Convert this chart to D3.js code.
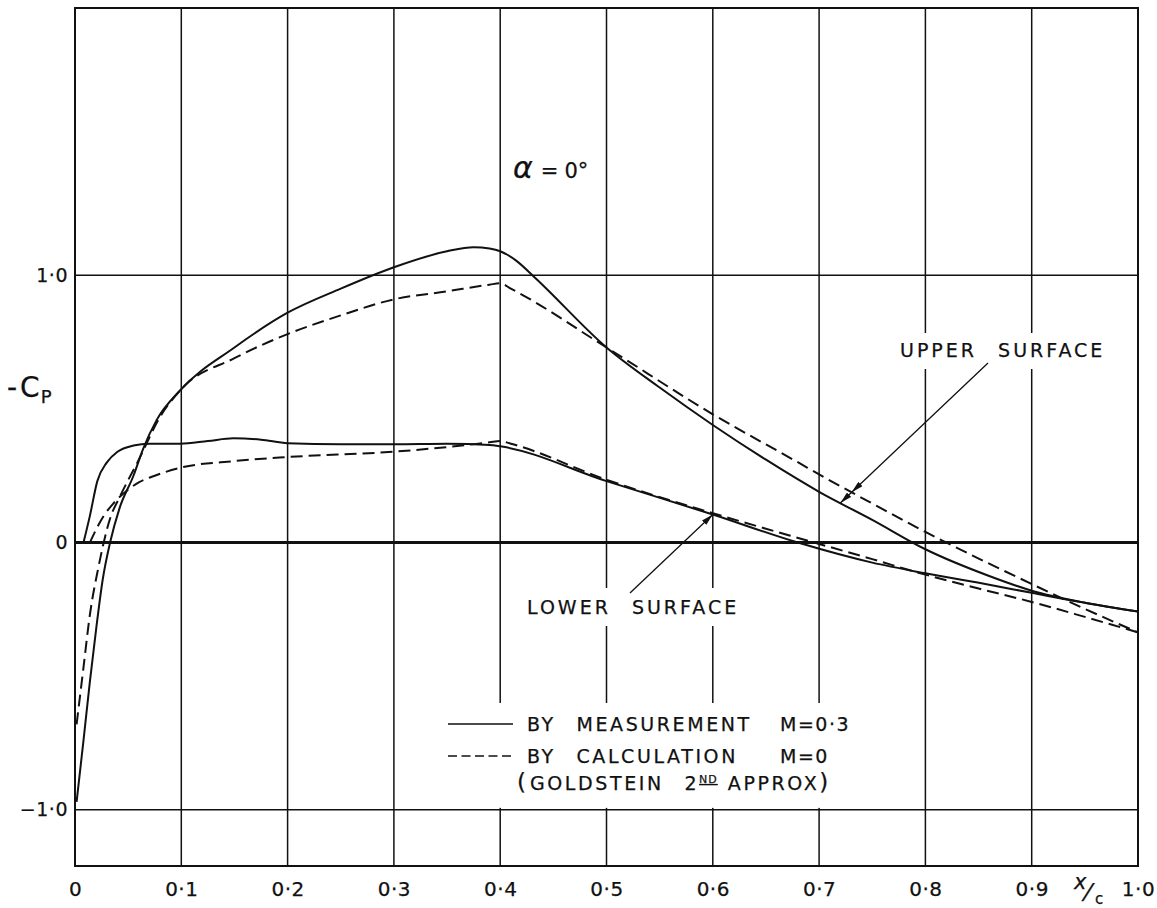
<!DOCTYPE html>
<html>
<head>
<meta charset="utf-8">
<script src="https://cdn.jsdelivr.net/npm/d3@7"></script>
<style>
  body { margin: 0; background: #fff; }
  text { font-family: "DejaVu Sans", sans-serif; fill: #111; stroke: #111; stroke-width: 0.25; }
</style>
</head>
<body>
<svg id="chart" width="1157" height="908"></svg>
<script>
// Pressure distribution, -Cp against x/c, alpha = 0 deg.
// Each series is a list of [x/c, -Cp] pairs.
const upperMeasured = [
  [0.0015, -0.97], [0.008, -0.74], [0.014, -0.52], [0.020, -0.32], [0.026, -0.14],
  [0.033, 0.0], [0.042, 0.13], [0.055, 0.25], [0.064, 0.35], [0.077, 0.46],
  [0.099, 0.57], [0.15, 0.73], [0.2, 0.86], [0.25, 0.95], [0.3, 1.03],
  [0.35, 1.09], [0.375, 1.105], [0.39, 1.1], [0.4, 1.09], [0.415, 1.055],
  [0.433, 0.99], [0.5, 0.73], [0.55, 0.58], [0.6, 0.44], [0.65, 0.31],
  [0.7, 0.19], [0.75, 0.085], [0.8, -0.025], [0.86, -0.125], [0.9, -0.18],
  [0.95, -0.225], [1.0, -0.258]
];
const upperCalculated = [
  [0.0015, -0.68], [0.008, -0.467], [0.014, -0.27], [0.022, -0.093], [0.027, 0.0],
  [0.033, 0.09], [0.042, 0.17], [0.06, 0.31], [0.08, 0.47], [0.099, 0.57],
  [0.15, 0.69], [0.2, 0.78], [0.25, 0.85], [0.3, 0.91], [0.35, 0.94],
  [0.39, 0.965], [0.4, 0.97], [0.41, 0.95], [0.5, 0.73], [0.6, 0.48],
  [0.682, 0.296], [0.7, 0.255], [0.745, 0.157], [0.8, 0.04], [0.858, -0.075],
  [0.9, -0.155], [0.95, -0.248], [1.0, -0.336]
];
const lowerMeasured = [
  [0.008, 0.0], [0.014, 0.1], [0.021, 0.23], [0.03, 0.3], [0.04, 0.34],
  [0.055, 0.363], [0.07, 0.37], [0.099, 0.37], [0.125, 0.38], [0.149, 0.39],
  [0.175, 0.385], [0.2, 0.372], [0.25, 0.368], [0.3, 0.368], [0.35, 0.37],
  [0.39, 0.365], [0.4, 0.36], [0.5, 0.23], [0.6, 0.105], [0.68, 0.0],
  [0.75, -0.075], [0.8, -0.115], [0.86, -0.158], [0.9, -0.188], [0.95, -0.225],
  [1.0, -0.258]
];
const lowerCalculated = [
  [0.014, 0.0], [0.02, 0.05], [0.027, 0.1], [0.036, 0.146], [0.049, 0.195],
  [0.06, 0.225], [0.075, 0.25], [0.099, 0.28], [0.15, 0.305], [0.2, 0.32],
  [0.3, 0.34], [0.39, 0.375], [0.4, 0.38], [0.41, 0.37], [0.5, 0.235],
  [0.6, 0.11], [0.7, -0.005], [0.75, -0.062], [0.8, -0.12], [0.85, -0.172],
  [0.9, -0.222], [0.95, -0.278], [1.0, -0.336]
];

const xTickValues = [0, 0.1, 0.2, 0.3, 0.4, 0.5, 0.6, 0.7, 0.8, 0.9, 1.0];
const xTickLabels = ["0", "0·1", "0·2", "0·3", "0·4", "0·5", "0·6", "0·7", "0·8", "0·9", "1·0"];
const yTickValues = [-1, 0, 1];
const yTickLabels = ["−1·0", "0", "1·0"];

const svg = d3.select("#chart");
const x = d3.scaleLinear().domain([0, 1]).range([75, 1138]);
const y = d3.scaleLinear().domain([-1.21, 2.0]).range([866, 8]);
const ink = "#111";

const gridLayer = svg.append("g");
const knockLayer = svg.append("g");
const frameLayer = svg.append("g");
const curveLayer = svg.append("g");
const noteLayer = svg.append("g");

// grid: chordwise stations every 0.1, and -Cp = -1, 0, 1
gridLayer.selectAll("line.v")
  .data(xTickValues.filter(d => d > 0 && d < 1))
  .join("line")
  .attr("x1", d => x(d)).attr("x2", d => x(d))
  .attr("y1", y(2.0)).attr("y2", y(-1.21))
  .attr("stroke", ink).attr("stroke-width", 1.5);
gridLayer.selectAll("line.h")
  .data(yTickValues)
  .join("line")
  .attr("x1", x(0)).attr("x2", x(1))
  .attr("y1", d => y(d)).attr("y2", d => y(d))
  .attr("stroke", ink).attr("stroke-width", d => d === 0 ? 3 : 1.5);

frameLayer.append("rect")
  .attr("x", x(0)).attr("y", y(2.0))
  .attr("width", x(1) - x(0)).attr("height", y(-1.21) - y(2.0))
  .attr("fill", "none").attr("stroke", ink).attr("stroke-width", 2);

// axes (labels only)
const xAxis = d3.axisBottom(x).tickValues(xTickValues)
  .tickFormat((d, i) => xTickLabels[i]).tickSize(0).tickPadding(16);
const gx = svg.append("g").attr("transform", `translate(0,${y(-1.21)})`).call(xAxis);
gx.select(".domain").remove();
gx.selectAll("text").attr("font-size", 20).attr("letter-spacing", 0.5)
  .attr("font-family", "DejaVu Sans").attr("fill", ink);

const yAxis = d3.axisLeft(y).tickValues(yTickValues)
  .tickFormat((d, i) => yTickLabels[i]).tickSize(0).tickPadding(7);
const gy = svg.append("g").attr("transform", `translate(${x(0)},0)`).call(yAxis);
gy.select(".domain").remove();
gy.selectAll("text").attr("font-size", 19).attr("letter-spacing", 0.5)
  .attr("font-family", "DejaVu Sans").attr("fill", ink);

// x/c label
const xc = svg.append("g");
xc.append("text").attr("x", 1074).attr("y", 889).attr("font-size", 21).attr("font-style", "italic").text("x");
xc.append("text").attr("x", 1086).attr("y", 901).attr("font-size", 25).text("⁄");
xc.append("text").attr("x", 1095).attr("y", 904).attr("font-size", 15).text("c");

// -Cp label
const cp = svg.append("text").attr("x", 7).attr("y", 397).attr("font-size", 28);
cp.append("tspan").text("-");
cp.append("tspan").attr("dx", 3).text("C");
cp.append("tspan").attr("font-size", 18).attr("dy", 6).attr("dx", 1).text("P");

// curves
const line = d3.line().x(d => x(d[0])).y(d => y(d[1])).curve(d3.curveMonotoneX);
const series = [
  { data: upperMeasured, dash: null },
  { data: lowerMeasured, dash: null },
  { data: upperCalculated, dash: "12,6" },
  { data: lowerCalculated, dash: "12,6" }
];
curveLayer.selectAll("path")
  .data(series)
  .join("path")
  .attr("d", d => line(d.data))
  .attr("fill", "none")
  .attr("stroke", ink)
  .attr("stroke-width", 2)
  .attr("stroke-dasharray", d => d.dash);

// annotations
const defs = svg.append("defs");
defs.append("marker").attr("id", "head")
  .attr("viewBox", "0 0 12 6").attr("refX", 12).attr("refY", 3)
  .attr("markerWidth", 12).attr("markerHeight", 6)
  .attr("markerUnits", "userSpaceOnUse").attr("orient", "auto")
  .append("path").attr("d", "M0,0 L12,3 L0,6 Z").attr("fill", ink);

function valueAt(data, xv) {
  const i = d3.bisector(d => d[0]).left(data, xv);
  if (i <= 0) return data[0][1];
  if (i >= data.length) return data[data.length - 1][1];
  const a = data[i - 1], b = data[i];
  return a[1] + (b[1] - a[1]) * (xv - a[0]) / (b[0] - a[0]);
}
// point on segment p0->p1 where it meets a series (bisection on pixel y)
function meet(p0, p1, data) {
  let lo = 0, hi = 1;
  const f = t => {
    const px = p0[0] + (p1[0] - p0[0]) * t, py = p0[1] + (p1[1] - p0[1]) * t;
    return py - y(valueAt(data, x.invert(px)));
  };
  for (let k = 0; k < 40; k++) {
    const m = (lo + hi) / 2;
    if (Math.sign(f(m)) === Math.sign(f(lo))) lo = m; else hi = m;
  }
  const t = (lo + hi) / 2;
  return [p0[0] + (p1[0] - p0[0]) * t, p0[1] + (p1[1] - p0[1]) * t];
}

const labelStyle = sel => sel.attr("font-size", 19).attr("letter-spacing", 3).attr("word-spacing", 12);
const knockouts = [];

// alpha
const alpha = noteLayer.append("text").attr("x", 513).attr("y", 178).attr("font-size", 21);
alpha.append("tspan").attr("font-size", 30).attr("font-style", "italic").text("α");
alpha.append("tspan").attr("dx", 8).text("=");
alpha.append("tspan").attr("dx", 6).text("0°");

// upper surface
const upperLabel = noteLayer.append("text").attr("x", 900).attr("y", 357).call(labelStyle).text("UPPER SURFACE");
knockouts.push({ node: upperLabel.node(), pad: [6, 6, 8, 8] });
{
  const start = [988, 363];
  const tipX = 0.72;
  const tip = [x(tipX), y(valueAt(upperMeasured, tipX))];
  const mid = meet(start, tip, upperCalculated);
  noteLayer.append("path")
    .attr("d", `M${start}L${mid}L${tip}`)
    .attr("fill", "none").attr("stroke", ink).attr("stroke-width", 1.3)
    .attr("marker-mid", "url(#head)").attr("marker-end", "url(#head)");
}

// lower surface
const lowerLabel = noteLayer.append("text").attr("x", 527).attr("y", 614).call(labelStyle).text("LOWER SURFACE");
knockouts.push({ node: lowerLabel.node(), pad: [8, 10, 8, 8] });
{
  const start = [630, 593];
  const tipX = 0.6;
  const tip = [x(tipX), y(valueAt(lowerMeasured, tipX))];
  noteLayer.append("path")
    .attr("d", `M${start}L${tip}`)
    .attr("fill", "none").attr("stroke", ink).attr("stroke-width", 1.3)
    .attr("marker-end", "url(#head)");
}

// legend
const legend = noteLayer.append("g");
legend.append("line").attr("x1", 448).attr("x2", 513).attr("y1", 724).attr("y2", 724)
  .attr("stroke", ink).attr("stroke-width", 1.5);
legend.append("line").attr("x1", 448).attr("x2", 513).attr("y1", 756).attr("y2", 756)
  .attr("stroke", ink).attr("stroke-width", 1.5).attr("stroke-dasharray", "9,4.5");
legend.append("text").attr("x", 527).attr("y", 731).call(labelStyle).attr("letter-spacing", 2.6).text("BY MEASUREMENT");
legend.append("text").attr("x", 780).attr("y", 731).call(labelStyle).attr("letter-spacing", 1.5).text("M=0·3");
legend.append("text").attr("x", 527).attr("y", 763).call(labelStyle).attr("letter-spacing", 2.6).text("BY CALCULATION");
legend.append("text").attr("x", 780).attr("y", 763).call(labelStyle).attr("letter-spacing", 1.5).text("M=0");
const gold = legend.append("text").attr("x", 517).attr("y", 790).call(labelStyle).attr("letter-spacing", 2.6);
gold.append("tspan").attr("font-size", 23).attr("letter-spacing", 4).text("(");
gold.append("tspan").text("GOLDSTEIN 2");
gold.append("tspan").attr("font-size", 11).attr("dy", -7).attr("letter-spacing", 1)
  .attr("text-decoration", "underline").text("ND");
gold.append("tspan").attr("dy", 7).attr("dx", 10).text("APPROX");
gold.append("tspan").attr("font-size", 23).text(")");
knockouts.push({ node: legend.node(), pad: [10, 6, y(-1) - 2, 6], toY: true });

// clear grid behind labels
knockouts.forEach(k => {
  const b = k.node.getBBox();
  const [pt, pr, pb, pl] = k.pad;
  const y0 = b.y - pt;
  const y1 = k.toY ? pb : b.y + b.height + pb;
  knockLayer.append("rect")
    .attr("x", b.x - pl).attr("y", y0)
    .attr("width", b.width + pl + pr).attr("height", y1 - y0)
    .attr("fill", "#fff");
});
</script>
</body>
</html>
